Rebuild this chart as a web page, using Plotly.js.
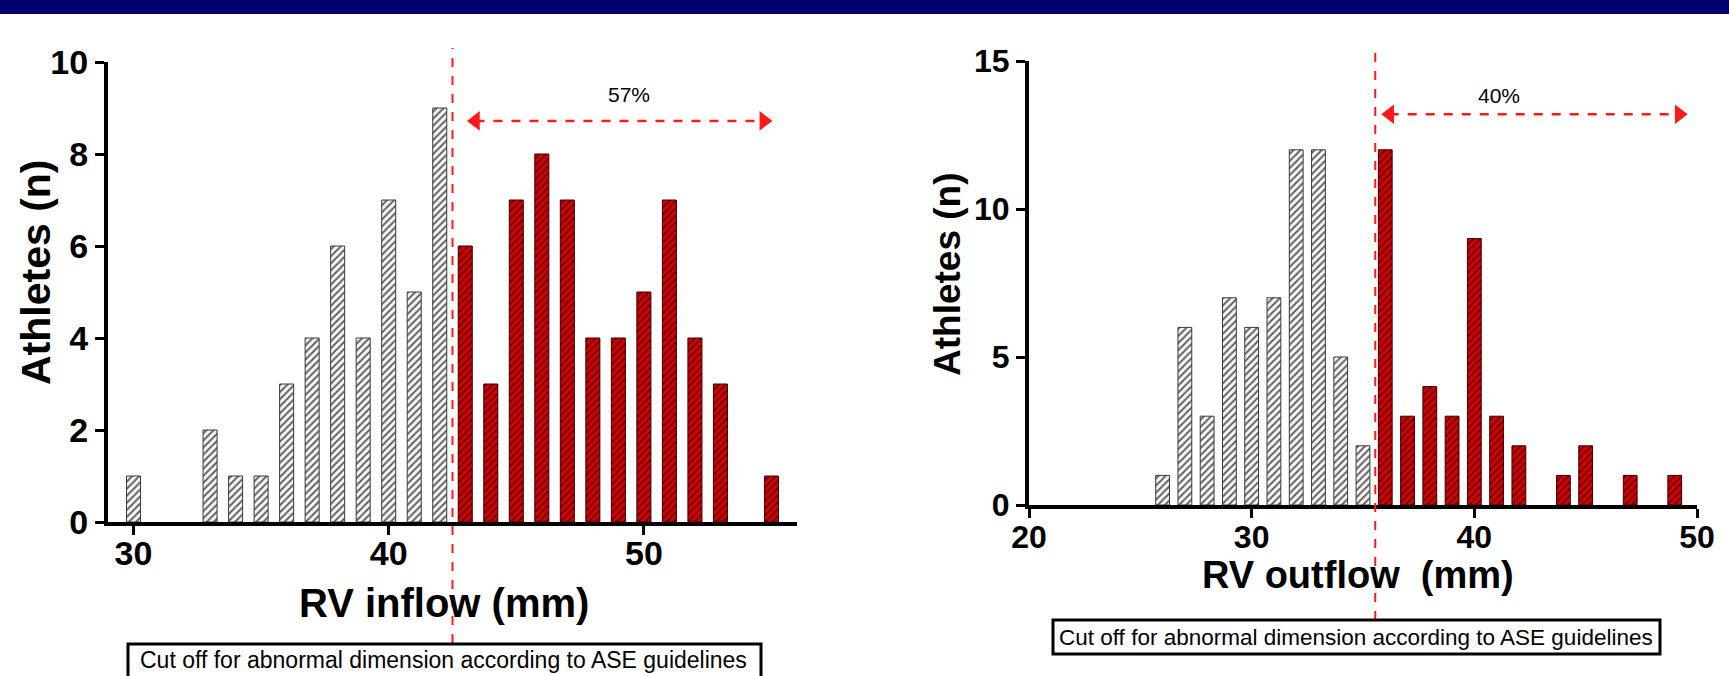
<!DOCTYPE html>
<html>
<head>
<meta charset="utf-8">
<script src="https://cdn.plot.ly/plotly-3.0.1.min.js"></script>
<style>
  html, body { margin: 0; padding: 0; background: #ffffff; }
  #chart { width: 1729px; height: 676px; }
</style>
</head>
<body>
<div id="chart"></div>
<script>
// ---- Data ----
// RV inflow histogram (mm -> number of athletes)
const inflowNormalMM = [30, 33, 34, 35, 36, 37, 38, 39, 40, 41, 42];
const inflowNormalN  = [1, 2, 1, 1, 3, 4, 6, 4, 7, 5, 9];
const inflowAbnMM    = [43, 44, 45, 46, 47, 48, 49, 50, 51, 52, 53, 55];
const inflowAbnN     = [6, 3, 7, 8, 7, 4, 4, 5, 7, 4, 3, 1];
const inflowCutoff   = 42.5;
const inflowArrowX   = [43.4, 54.7];
const inflowArrowY   = 8.72;
const inflowPctText  = "57%";
const inflowPctPos   = [49.4, 9.3];
const inflowTicks    = [30, 40, 50];

// RV outflow histogram (mm -> number of athletes)
const outflowNormalMM = [26, 27, 28, 29, 30, 31, 32, 33, 34, 35];
const outflowNormalN  = [1, 6, 3, 7, 6, 7, 12, 12, 5, 2];
const outflowAbnMM    = [36, 37, 38, 39, 40, 41, 42, 44, 45, 47, 49];
const outflowAbnN     = [12, 3, 4, 3, 9, 3, 2, 1, 2, 1, 1];
const outflowCutoff   = 35.55;
const outflowArrowX   = [36.2, 49.2];
const outflowArrowY   = 13.2;
const outflowPctText  = "40%";
const outflowPctPos   = [41.1, 13.85];
const outflowTicks    = [20, 30, 40, 50];

const boxText = "Cut off for abnormal dimension according to ASE guidelines";

// ---- Styling ----
const W = 1729, H = 676;
const px = v => v / W;           // pixel x -> paper
const py = v => (H - v) / H;     // pixel y -> paper
const BOLD = "Liberation Sans, Arial, Helvetica, sans-serif";
const REG = "Liberation Sans, Arial, Helvetica, sans-serif";
const RED = "#ff1a1a";

function grayBars(x, y, xa, ya, w) {
  return { type: "bar", x: x, y: y, xaxis: xa, yaxis: ya, width: w,
    marker: { color: "#ffffff", line: { color: "#3a3a3a", width: 1 },
      pattern: { shape: "/", fgcolor: "#5a5a5a", bgcolor: "#f4f4f4", size: 5, solidity: 0.35 } },
    showlegend: false, hoverinfo: "x+y" };
}
function redBars(x, y, xa, ya, w) {
  return { type: "bar", x: x, y: y, xaxis: xa, yaxis: ya, width: w,
    marker: { color: "#cc0000", line: { color: "#3a0000", width: 1 },
      pattern: { shape: "/", fgcolor: "#5e0000", bgcolor: "#d00000", size: 5, solidity: 0.3 } },
    showlegend: false, hoverinfo: "x+y" };
}
function arrow(xs, yv, xa, ya) {
  return { type: "scatter", mode: "lines+markers", x: xs, y: [yv, yv], xaxis: xa, yaxis: ya,
    line: { color: RED, width: 2.5, dash: "dash" },
    marker: { symbol: ["triangle-left", "triangle-right"], size: 17, color: RED },
    showlegend: false, hoverinfo: "skip" };
}

const data = [
  grayBars(inflowNormalMM, inflowNormalN, "x", "y", 0.55),
  redBars(inflowAbnMM, inflowAbnN, "x", "y", 0.55),
  arrow(inflowArrowX, inflowArrowY, "x", "y"),
  grayBars(outflowNormalMM, outflowNormalN, "x2", "y2", 0.62),
  redBars(outflowAbnMM, outflowAbnN, "x2", "y2", 0.62),
  arrow(outflowArrowX, outflowArrowY, "x2", "y2")
];

const axisCommon = {
  showgrid: false, zeroline: false, showline: true, linecolor: "#000000", linewidth: 4,
  ticks: "outside", ticklen: 9, tickwidth: 3, tickcolor: "#000000", fixedrange: true
};

const layout = {
  width: W, height: H,
  margin: { l: 0, r: 0, t: 0, b: 0 },
  paper_bgcolor: "#ffffff", plot_bgcolor: "rgba(0,0,0,0)",
  barmode: "overlay",
  showlegend: false,
  xaxis: Object.assign({}, axisCommon, {
    domain: [px(108), px(797)], range: [29.0, 56.0], anchor: "y",
    tickmode: "array", tickvals: inflowTicks, ticklabelstandoff: -11,
    tickfont: { family: BOLD, size: 34, color: "#000", weight: "bold" }
  }),
  yaxis: Object.assign({}, axisCommon, {
    domain: [py(522), py(62)], range: [0, 10], anchor: "x", dtick: 2,
    tickfont: { family: BOLD, size: 34, color: "#000", weight: "bold" }
  }),
  xaxis2: Object.assign({}, axisCommon, {
    domain: [px(1029), px(1697)], range: [20, 50], anchor: "y2",
    tickmode: "array", tickvals: outflowTicks, ticklabelstandoff: -8,
    tickfont: { family: BOLD, size: 32, color: "#000", weight: "bold" }
  }),
  yaxis2: Object.assign({}, axisCommon, {
    domain: [py(505), py(61)], range: [0, 15], anchor: "x2", dtick: 5,
    tickfont: { family: BOLD, size: 32, color: "#000", weight: "bold" }
  }),
  shapes: [
    // top navy banner
    { type: "rect", xref: "paper", yref: "paper", x0: -0.01, x1: 1.01, y0: py(14), y1: 1.02,
      fillcolor: "#000070", line: { width: 0 }, layer: "above" },
    // cutoff lines
    { type: "line", xref: "x", yref: "paper", x0: inflowCutoff, x1: inflowCutoff, y0: py(643), y1: py(48),
      line: { color: RED, width: 2, dash: "dash" } },
    { type: "line", xref: "x2", yref: "paper", x0: outflowCutoff, x1: outflowCutoff, y0: py(620), y1: py(48),
      line: { color: RED, width: 2, dash: "dash" } },
    // legend boxes
    { type: "rect", xref: "paper", yref: "paper", x0: px(128), x1: px(761), y0: py(700), y1: py(644),
      fillcolor: "#ffffff", line: { color: "#000000", width: 3 } },
    { type: "rect", xref: "paper", yref: "paper", x0: px(1053), x1: px(1660), y0: py(654), y1: py(620),
      fillcolor: "#ffffff", line: { color: "#000000", width: 3 } }
  ],
  annotations: [
    { xref: "x", yref: "y", x: inflowPctPos[0], y: inflowPctPos[1], text: inflowPctText, showarrow: false,
      font: { family: REG, size: 21, color: "#000" } },
    { xref: "x2", yref: "y2", x: outflowPctPos[0], y: outflowPctPos[1], text: outflowPctText, showarrow: false,
      font: { family: REG, size: 21, color: "#000" } },
    // axis titles
    { xref: "paper", yref: "paper", x: px(444), y: py(603), text: "RV inflow (mm)", showarrow: false,
      xanchor: "center", yanchor: "middle", font: { family: BOLD, size: 40, color: "#000", weight: "bold" } },
    { xref: "paper", yref: "paper", x: px(1358), y: py(575), text: "RV outflow\u00a0 (mm)", showarrow: false,
      xanchor: "center", yanchor: "middle", font: { family: BOLD, size: 38, color: "#000", weight: "bold" } },
    { xref: "paper", yref: "paper", x: px(36), y: py(272), text: "Athletes (n)", showarrow: false, textangle: -90,
      xanchor: "center", yanchor: "middle", font: { family: BOLD, size: 41, color: "#000", weight: "bold" } },
    { xref: "paper", yref: "paper", x: px(947), y: py(274), text: "Athletes (n)", showarrow: false, textangle: -90,
      xanchor: "center", yanchor: "middle", font: { family: BOLD, size: 37, color: "#000", weight: "bold" } },
    // box texts
    { xref: "paper", yref: "paper", x: px(444), y: py(660), text: boxText, showarrow: false,
      xanchor: "center", yanchor: "middle", font: { family: REG, size: 23, color: "#000" } },
    { xref: "paper", yref: "paper", x: px(1356), y: py(637), text: boxText, showarrow: false,
      xanchor: "center", yanchor: "middle", font: { family: REG, size: 22.5, color: "#000" } }
  ]
};

Plotly.newPlot("chart", data, layout, { staticPlot: true, displayModeBar: false });
</script>
</body>
</html>
